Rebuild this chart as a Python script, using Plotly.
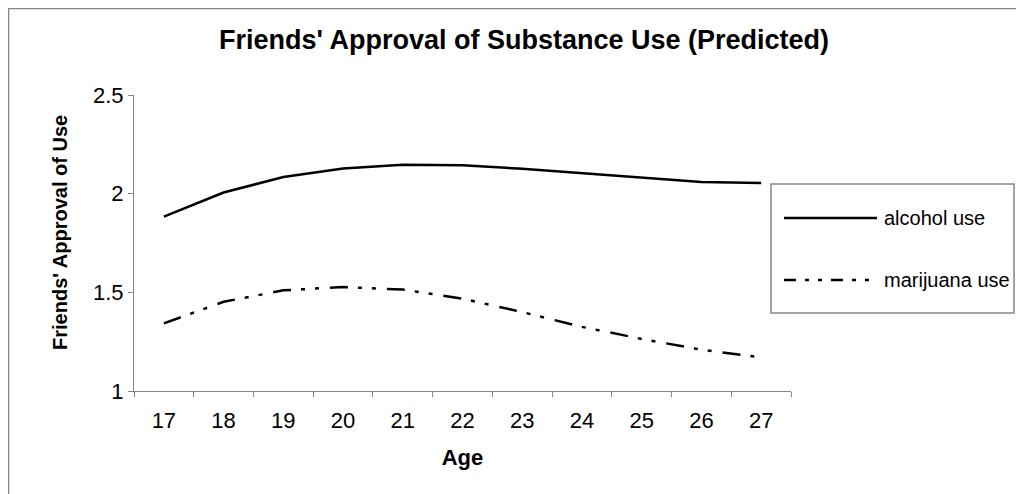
import plotly.graph_objects as go

ages = ["17", "18", "19", "20", "21", "22", "23", "24", "25", "26", "27"]
alcohol = [1.884, 2.006, 2.084, 2.127, 2.147, 2.144, 2.126, 2.103, 2.080, 2.059, 2.054]
marijuana = [1.343, 1.452, 1.510, 1.527, 1.514, 1.468, 1.400, 1.325, 1.264, 1.209, 1.171]
series_names = ["alcohol use", "marijuana use"]

FONT = "Liberation Sans, Arial, sans-serif"
DASH = "18px,10px,4px,10px,4px,11px"
GRAY = "#868686"

fig = go.Figure()
fig.add_trace(go.Scatter(x=ages, y=alcohol, mode="lines", name=series_names[0],
                         line=dict(color="black", width=2.5), showlegend=False))
fig.add_trace(go.Scatter(x=ages, y=marijuana, mode="lines", name=series_names[1],
                         line=dict(color="black", width=2.5, dash=DASH), showlegend=False))

# outer frame
fig.add_shape(type="rect", xref="paper", yref="paper", x0=-0.191, x1=3, y0=-3, y1=1.292,
              line=dict(color=GRAY, width=1.5), layer="below")

# custom legend box
fig.add_shape(type="rect", xref="paper", yref="paper", x0=0.9696, x1=1.3394, y0=0.2635, y1=0.6993,
              line=dict(color=GRAY, width=1.5))
fig.add_shape(type="line", xref="paper", yref="paper", x0=0.9893, x1=1.1309, y0=0.5845, y1=0.5845,
              line=dict(color="black", width=2.5))
fig.add_shape(type="line", xref="paper", yref="paper", x0=0.9893, x1=1.1309, y0=0.375, y1=0.375,
              line=dict(color="black", width=2.5, dash="12px,9px,4px,9px,4px,9px"))
for name, yy in zip(series_names, [0.5845, 0.375]):
    fig.add_annotation(text=name, xref="paper", yref="paper", x=1.1385, y=yy,
                       xanchor="left", yanchor="middle", showarrow=False,
                       font=dict(family=FONT, size=20, color="black"))

# y-axis title
fig.add_annotation(text="<b>Friends' Approval of Use</b>", xref="paper", yref="paper",
                   x=-0.1126, y=0.534, textangle=-90, showarrow=False,
                   xanchor="center", yanchor="middle",
                   font=dict(family=FONT, size=20, color="black"))

fig.update_layout(
    width=1024, height=494,
    margin=dict(l=126, r=241, t=87, b=111),
    paper_bgcolor="white", plot_bgcolor="white",
    showlegend=False,
    title=dict(text="<b>Friends' Approval of Substance Use (Predicted)</b>",
               x=0.5936, xref="paper", xanchor="center", y=1 - 32 / 494, yanchor="middle",
               font=dict(family=FONT, size=27, color="black")),
    font=dict(family=FONT, color="black"),
)
fig.update_xaxes(type="category", range=[-0.5, 10.5], tickson="boundaries", ticks="outside",
                 ticklen=5, tickcolor=GRAY, showline=True, linecolor=GRAY, linewidth=1.2,
                 showgrid=False, zeroline=False, ticklabelstandoff=9,
                 tickfont=dict(family=FONT, size=22, color="black"),
                 title=dict(text="<b>Age</b>", font=dict(family=FONT, size=22, color="black"), standoff=18))
fig.update_yaxes(range=[1, 2.5], tickvals=[1, 1.5, 2, 2.5], ticktext=["1", "1.5", "2", "2.5"],
                 ticks="outside", ticklen=5, tickcolor=GRAY, showline=True,
                 linecolor=GRAY, linewidth=1.2, showgrid=False, zeroline=False,
                 tickfont=dict(family=FONT, size=22, color="black"))

fig.write_html("out.html")
